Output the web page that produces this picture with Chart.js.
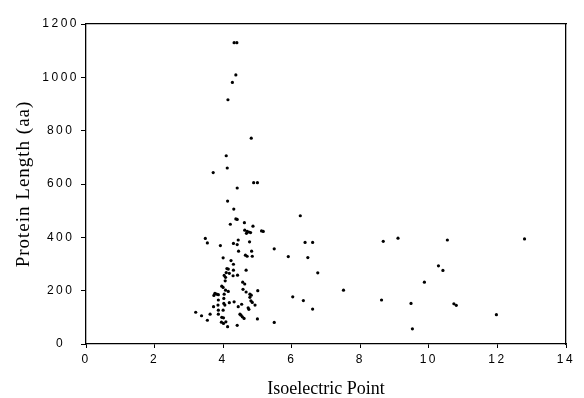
<!DOCTYPE html>
<html>
<head>
<meta charset="utf-8">
<script src="https://cdn.jsdelivr.net/npm/chart.js@4"></script>
<style>
  html, body { margin: 0; padding: 0; background: #fff; }
  #wrap { width: 584px; height: 398px; }
</style>
</head>
<body>
<div id="wrap"><canvas id="pIChart"></canvas></div>
<script>
// isoelectric point (x) and protein length in aa (y)
var isoelectricPoints = [
    4.32, 4.40, 4.37, 4.27, 4.14, 4.82, 4.09, 4.12, 3.71, 4.89,
    5.00, 4.41, 4.13, 4.31, 4.37, 4.41, 4.21, 4.62, 4.87, 4.63,
    4.70, 4.75, 4.68, 4.80, 5.12, 5.17, 3.48, 3.54, 4.44, 4.77,
    3.92, 4.30, 4.41, 5.49, 4.45, 4.83, 4.65, 4.70, 4.85, 4.00,
    4.23, 4.30, 4.11, 4.15, 4.30, 4.18, 4.09, 4.67, 4.03, 4.07,
    4.29, 4.42, 4.06, 4.57, 4.63, 3.96, 4.00, 4.07, 4.15, 4.58,
    4.67, 4.78, 5.01, 3.73, 3.76, 3.81, 3.86, 4.03, 4.82, 4.78,
    4.02, 3.86, 4.18, 4.32, 4.02, 4.05, 4.54, 4.44, 4.81, 4.85,
    4.93, 4.73, 4.75, 3.72, 3.85, 3.86, 4.00, 3.20, 3.37, 3.62,
    3.54, 3.86, 3.96, 4.01, 4.49, 4.52, 4.56, 4.61, 5.00, 3.95,
    4.01, 4.08, 4.13, 4.41, 5.49, 6.25, 6.39, 6.61, 5.90, 6.47,
    6.76, 7.51, 6.03, 6.34, 6.61, 8.67, 9.10, 10.54, 12.79, 10.28,
    10.41, 9.87, 8.62, 9.48, 10.73, 10.80, 11.97, 9.52
];
var proteinLengths = [
    1130, 1130, 1009, 981, 916, 772, 706, 660, 643, 605,
    605, 585, 536, 506, 469, 467, 449, 455, 442, 427,
    422, 420, 415, 418, 424, 422, 396, 379, 390, 383,
    369, 377, 373, 357, 348, 348, 333, 329, 329, 323,
    313, 299, 283, 281, 277, 265, 268, 277, 257, 250,
    256, 258, 237, 232, 225, 217, 212, 202, 197, 205,
    195, 187, 200, 182, 190, 187, 185, 187, 183, 175,
    171, 165, 155, 158, 152, 146, 149, 140, 162, 156,
    146, 136, 130, 140, 146, 127, 127, 119, 106, 112,
    89, 112, 100, 98, 112, 108, 102, 96, 94, 82,
    77, 83, 65, 70, 81, 481, 381, 381, 328, 324,
    267, 202, 177, 163, 131, 385, 397, 390, 394, 293,
    276, 232, 165, 152, 151, 145, 110, 57
];
var xTickValues = [0, 2, 4, 6, 8, 10, 12, 14];
var yTickValues = [0, 200, 400, 600, 800, 1000, 1200];

var points = isoelectricPoints.map(function (x, i) {
    return { x: x, y: proteinLengths[i] };
});

// linear scale that draws its labels / title with extra letter spacing
var spacing = { x: ['2.5px', '0px'], y: ['2.5px', '1px'] };
class SpacedLinear extends Chart.LinearScale {
    drawLabels(area) {
        var s = spacing[this.id];
        this.ctx.save();
        if (s) this.ctx.letterSpacing = s[0];
        super.drawLabels(area);
        this.ctx.restore();
    }
    drawTitle() {
        var s = spacing[this.id];
        this.ctx.save();
        if (s) this.ctx.letterSpacing = s[1];
        super.drawTitle();
        this.ctx.restore();
    }
}
SpacedLinear.id = 'spacedLinear';
SpacedLinear.defaults = Chart.LinearScale.defaults;
Chart.register(SpacedLinear);

var tickFont = { family: '"Liberation Sans", Arial, sans-serif', size: 12 };
var titleFont = { family: '"Liberation Serif", "Times New Roman", serif', size: 18, lineHeight: 1 };
var plainNumber = function (v) { return String(v); };

var ctx = document.getElementById('pIChart').getContext('2d');
var chart = new Chart(ctx, {
    type: 'scatter',
    data: {
        datasets: [{
            label: 'proteins',
            data: points,
            backgroundColor: '#000',
            borderWidth: 0,
            pointRadius: 1.6,
            pointHoverRadius: 1.6
        }]
    },
    options: {
        responsive: true,
        maintainAspectRatio: false,
        animation: false,
        events: [],
        layout: { padding: { left: 8, right: 18, top: 24, bottom: 0 } },
        plugins: {
            legend: { display: false },
            tooltip: { enabled: false }
        },
        scales: {
            x: {
                type: 'spacedLinear',
                position: 'bottom',
                min: 0,
                max: 14,
                afterBuildTicks: function (s) { s.ticks = xTickValues.map(function (v) { return { value: v }; }); },
                afterFit: function (s) { s.height = 54; },
                grid: { drawOnChartArea: false, drawTicks: true, tickLength: 4, color: '#000' },
                border: { color: '#000', width: 1.3 },
                ticks: { color: '#000', font: tickFont, padding: 4, maxRotation: 0, callback: plainNumber },
                title: {
                    display: true,
                    text: 'Isoelectric Point',
                    color: '#000',
                    font: titleFont,
                    padding: { top: 0, bottom: 0 }
                }
            },
            y: {
                type: 'spacedLinear',
                position: 'left',
                min: 0,
                max: 1200,
                afterBuildTicks: function (s) { s.ticks = yTickValues.map(function (v) { return { value: v }; }); },
                afterFit: function (s) { s.width = 78; },
                grid: { drawOnChartArea: false, drawTicks: true, tickLength: 5, color: '#000' },
                border: { color: '#000', width: 1.3 },
                ticks: { color: '#000', font: tickFont, padding: 7, crossAlign: 'center', callback: plainNumber },
                title: {
                    display: true,
                    text: 'Protein Length (aa)',
                    color: '#000',
                    font: { family: titleFont.family, size: 19, lineHeight: 1.2 },
                    padding: { top: 5, bottom: 0 }
                }
            },
            x2: {
                type: 'linear',
                position: 'top',
                min: 0,
                max: 14,
                grid: { display: false, drawTicks: false },
                border: { color: '#000', width: 1.3 },
                ticks: { display: false },
                afterFit: function (s) { s.height = 0; }
            },
            y2: {
                type: 'linear',
                position: 'right',
                min: 0,
                max: 1200,
                grid: { display: false, drawTicks: false },
                border: { color: '#000', width: 1.3 },
                ticks: { display: false },
                afterFit: function (s) { s.width = 0; }
            }
        }
    }
});
</script>
</body>
</html>
